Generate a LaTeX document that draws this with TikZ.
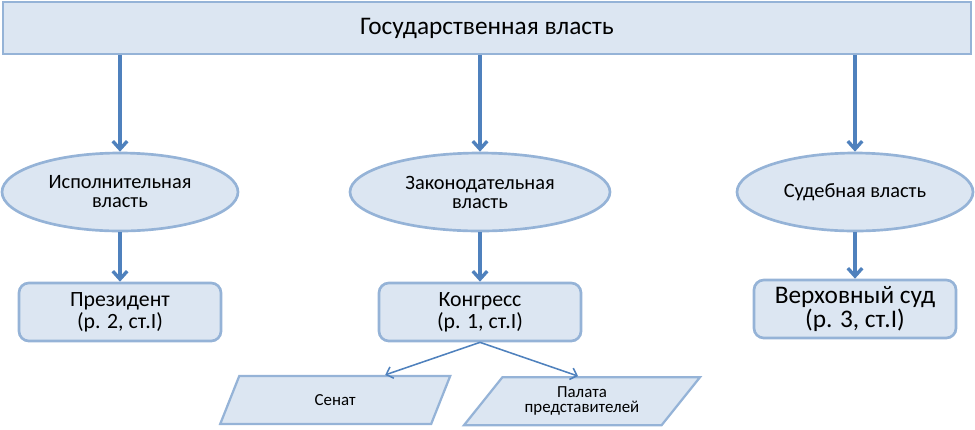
\documentclass[tikz,border=0pt]{standalone}
\usepackage{fontspec}
\setmainfont{Carlito}
\usetikzlibrary{arrows.meta}
\usetikzlibrary{shapes.geometric}
\usetikzlibrary{calc}
\definecolor{fillblue}{HTML}{DCE6F2}
\definecolor{edgeblue}{HTML}{95B3D7}
\definecolor{arrowblue}{HTML}{4F81BD}

\begin{document}
\begin{tikzpicture}[
    block/.style={draw=edgeblue, fill=fillblue, line width=1.9pt},
    branch/.style={block, ellipse, minimum width=5.9cm, minimum height=1.95cm, align=center, font=\fontsize{14.5}{13.5}\selectfont},
    organ/.style={block, rounded corners=7pt, minimum width=5.05cm, minimum height=1.45cm, align=center, font=\fontsize{15.5}{16}\selectfont},
    chamber/.style={block, line width=1.6pt, trapezium, trapezium stretches body, minimum height=1.2cm, align=center, font=\fontsize{12}{11}\selectfont},
    link/.style={arrowblue, line width=2.4pt, -{Straight Barb[length=2mm, width=3.6mm, line width=2.4pt]}},
    sublink/.style={arrowblue, line width=1.1pt, -{Straight Barb[length=1.5mm, width=3mm, line width=1.1pt]}}
]
    \useasboundingbox (0,0) rectangle (24.375,-10.725);

    \node[block, minimum width=24.2cm, minimum height=1.3cm, font=\fontsize{18}{20}\selectfont] (state) at (12.175,-0.7) {Государственная власть};

    \node[branch] (exec) at (3.0,-4.8) {Исполнительная\\власть};
    \node[branch, minimum width=6.5cm] (legis) at (12.0,-4.8) {Законодательная\\власть};
    \node[branch] (judic) at (21.375,-4.8) {Судебная власть};

    \node[organ] (pres) at (3.0,-7.8) {Президент\\(р. 2, ст.I)};
    \node[organ] (congr) at (12.0,-7.8) {Конгресс\\(р. 1, ст.I)};
    \node[organ, font=\fontsize{18}{17}\selectfont] (court) at (21.375,-7.725) {Верховный суд\\(р. 3, ст.I)};

    \node[chamber, trapezium left angle=47, trapezium right angle=133, minimum width=5.75cm] (senate) at (8.38,-10.0) {Сенат};
    \node[chamber, trapezium left angle=45, trapezium right angle=135, minimum width=5.9cm] (house) at (14.55,-10.03) {Палата\\представителей};

    \draw[link] (state.south -| exec.north) -- (exec.north);
    \draw[link] (state.south -| legis.north) -- (legis.north);
    \draw[link] (state.south -| judic.north) -- (judic.north);

    \draw[link] (exec.south) -- (pres.north);
    \draw[link] (legis.south) -- (congr.north);
    \draw[link] (judic.south) -- (court.north);

    \draw[sublink] (congr.south) -- ($(senate.north)+(1.25,0)$);
    \draw[sublink] (congr.south) -- ($(house.north)+(-0.1,0)$);
\end{tikzpicture}
\end{document}
